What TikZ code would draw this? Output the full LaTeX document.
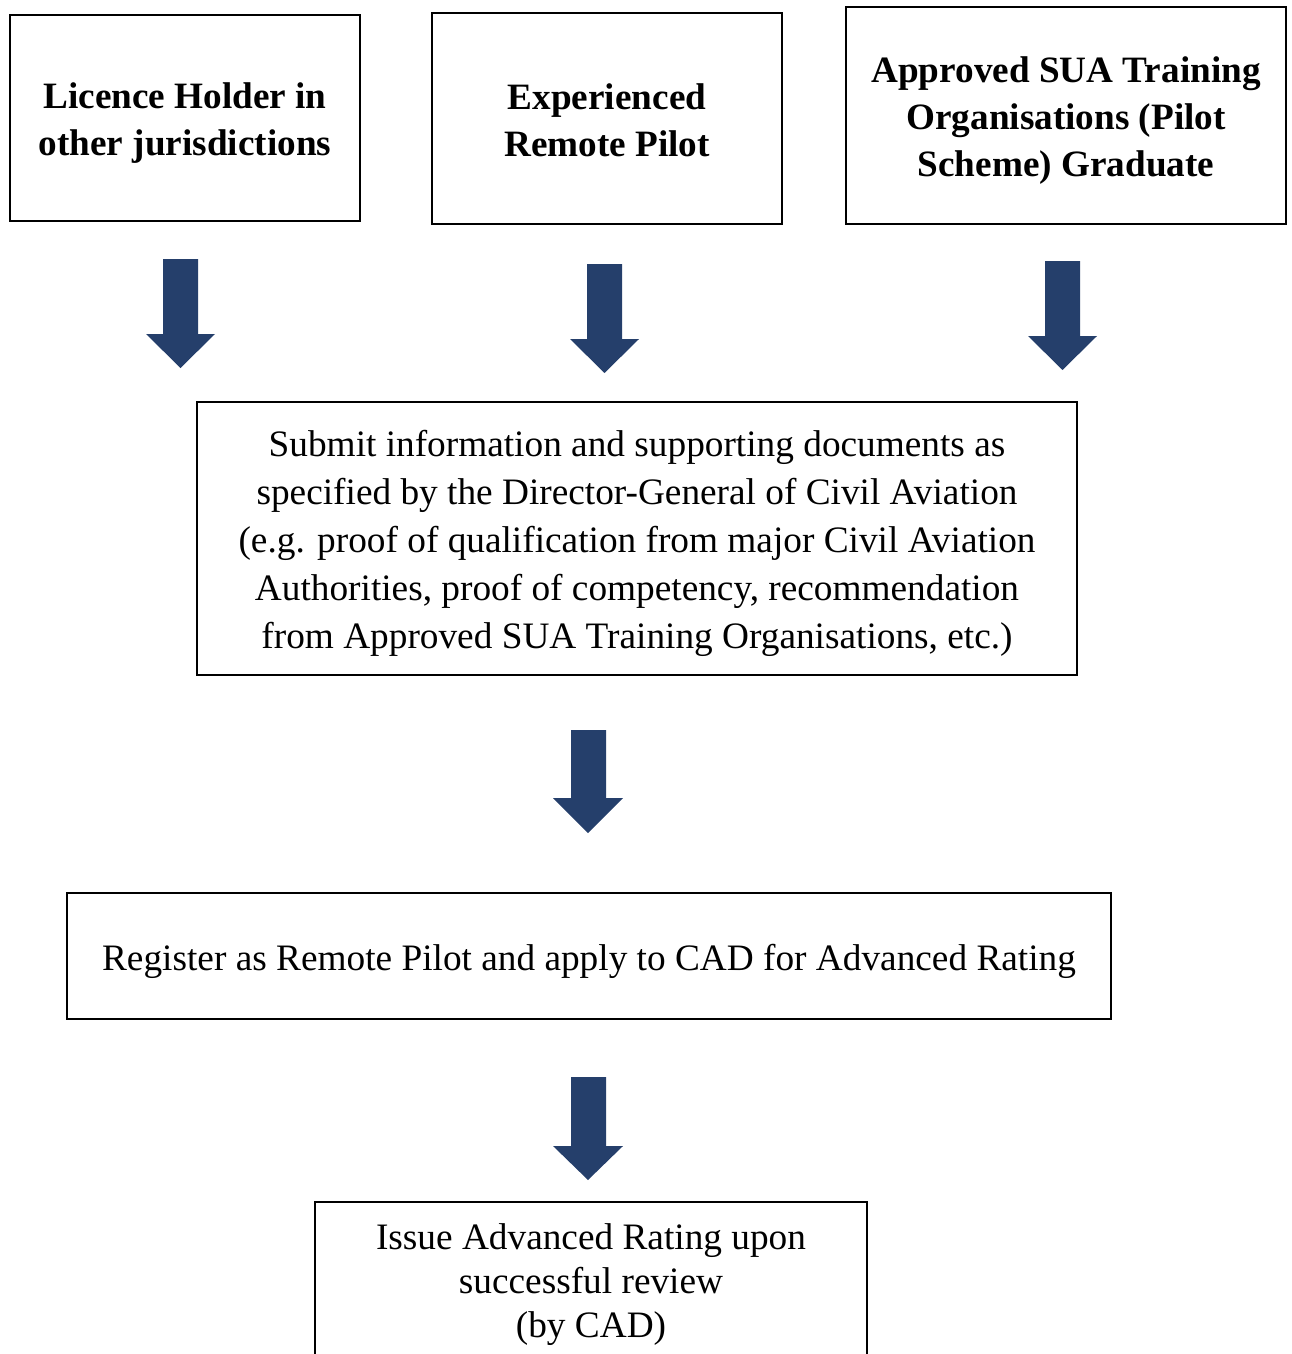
\documentclass[tikz,border=0pt]{standalone}
\usepackage{fontspec}
\setmainfont{Liberation Serif}
\definecolor{arrowblue}{HTML}{253F6B}
\begin{document}
\begin{tikzpicture}[x=1pt,y=-1pt,
  box/.style={draw=black, line width=2.6pt, fill=white, inner sep=0pt},
  caption/.style={align=center, inner sep=0pt},
  headtext/.style={caption, font=\fontsize{37.2}{47}\selectfont\bfseries},
  bodytext/.style={caption, font=\fontsize{37.3}{48}\selectfont},
  blockarrow/.style={fill=arrowblue, draw=none}]
\useasboundingbox (0,0) rectangle (1291,1354);
\clip (0,0) rectangle (1291,1354);

% source boxes
\node[box, minimum width=350pt, minimum height=206pt,
  label={[headtext, yshift=-5pt]center:Licence Holder in\\other jurisdictions}] (lic) at (185,118) {};
\node[box, minimum width=350pt, minimum height=211pt,
  label={[headtext, yshift=-2pt]center:Experienced\\Remote Pilot}] (exp) at (607,118.5) {};
\node[box, minimum width=440pt, minimum height=217pt,
  label={[headtext, yshift=-5pt]center:Approved SUA Training\\Organisations (Pilot\\Scheme) Graduate}] (sua) at (1066,115.5) {};

% process steps
\node[box, minimum width=880pt, minimum height=273pt,
  label={[bodytext, yshift=-5pt]center:Submit information and supporting documents as\\
   specified by the Director-General of Civil Aviation\\
   (e.g. proof of qualification from major Civil Aviation\\
   Authorities, proof of competency, recommendation\\
   from Approved SUA Training Organisations, etc.)}] (submit) at (637,538.5) {};
\node[box, minimum width=1044pt, minimum height=126pt,
  label={[bodytext, yshift=-5pt]center:Register as Remote Pilot and apply to CAD for Advanced Rating}] (register) at (589,956) {};
\node[box, minimum width=552pt, minimum height=158pt,
  label={[bodytext, font=\fontsize{37.3}{44}\selectfont, yshift=-4pt]center:Issue Advanced Rating upon\\successful review\\(by CAD)}] (issue) at (591,1281) {};

% block arrows: shaft x-range, head x-range, top, neck, tip
\newcommand{\blockarrow}[7]{%
  \fill[blockarrow] (#1,#5) -- (#2,#5) -- (#2,#6) -- (#4,#6) -- ({(#3+#4)/2},#7)
    -- (#3,#6) -- (#1,#6) -- cycle;}
\blockarrow{163}{198}{146}{215}{259}{334}{368}
\blockarrow{587}{622}{570}{639}{264}{339}{373}
\blockarrow{1045}{1080}{1028}{1097}{261}{336}{370}
\blockarrow{571}{606}{553}{623}{730}{798}{833}
\blockarrow{571}{606}{553}{623}{1077}{1146}{1180}
\end{tikzpicture}
\end{document}
